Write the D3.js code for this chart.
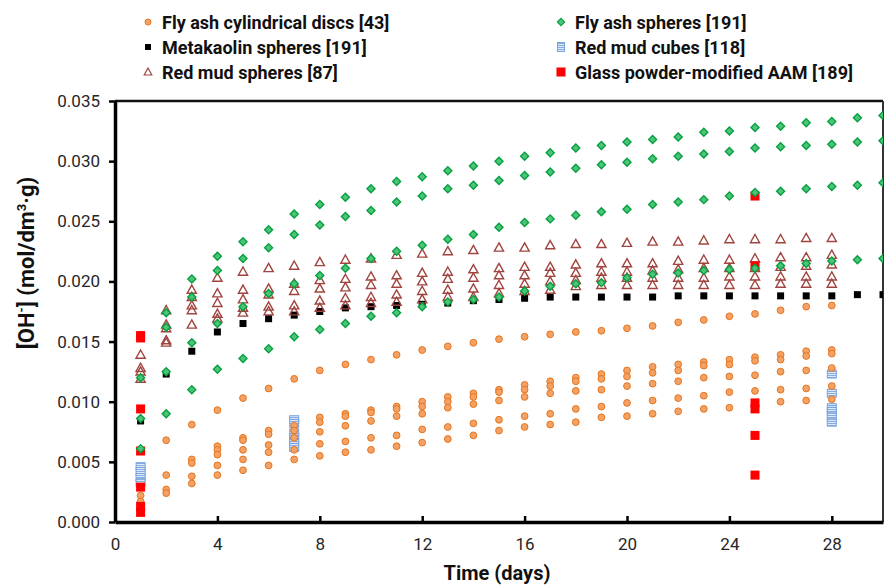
<!DOCTYPE html>
<html>
<head>
<meta charset="utf-8">
<script src="https://cdn.jsdelivr.net/npm/d3@7/dist/d3.min.js"></script>
<style>
body { margin: 0; background: #fff; }
text { font-family: Roboto, "Open Sans", sans-serif; }
</style>
</head>
<body>
<div id="chart-area"></div>
<script>
// ---- data ----
var days28 = [1,2,3,4,5,6,7,8,9,10,11,12,13,14,15,16,17,18,19,20,21,22,23,24,25,26,27,28];
var days30 = [1,2,3,4,5,6,7,8,9,10,11,12,13,14,15,16,17,18,19,20,21,22,23,24,25,26,27,28,29,30];

// Fly ash cylindrical discs [43]
var discA  = [null,0.0068,0.0081,0.0093,0.0103,0.0111,0.0119,0.0126,0.0131,0.0135,0.0139,0.0143,0.0146,0.0149,0.0152,0.0154,0.0156,0.0158,0.0159,0.0161,0.0163,0.0166,0.0168,0.0171,0.0173,0.0176,0.0179,0.0180];
var discB1 = [null,0.0039,0.0052,0.0063,0.0070,0.0076,0.0080,0.0087,0.0090,0.0093,0.0096,0.0100,0.0104,0.0107,0.0110,0.0114,0.0117,0.0120,0.0123,0.0126,0.0129,0.0131,0.0133,0.0135,0.0137,0.0139,0.0142,0.0143];
var discB2 = [null,null,0.0049,0.0060,0.0068,0.0073,0.0076,0.0083,0.0088,0.0091,0.0094,0.0096,0.0100,0.0104,0.0108,0.0110,0.0113,0.0117,0.0119,0.0121,0.0124,0.0126,0.0130,0.0131,0.0134,0.0135,0.0138,0.0140];
var discB3 = [null,null,null,0.0056,0.0060,0.0064,0.0070,0.0075,0.0080,0.0084,0.0088,0.0090,0.0095,0.0098,0.0101,0.0104,0.0107,0.0109,0.0110,0.0113,0.0115,0.0117,0.0120,0.0121,0.0122,0.0125,0.0126,0.0128];
var discC1 = [0.0022,0.0027,0.0038,0.0047,0.0052,0.0058,0.0060,0.0065,0.0067,0.0070,0.0072,0.0077,0.0079,0.0082,0.0085,0.0088,0.0090,0.0094,0.0096,0.0099,0.0101,0.0103,0.0105,0.0108,0.0109,0.0110,0.0111,0.0113];
var discC2 = [0.0017,0.0024,0.0032,0.0039,0.0043,0.0047,0.0052,0.0055,0.0058,0.0060,0.0063,0.0066,0.0069,0.0072,0.0076,0.0079,0.0081,0.0083,0.0087,0.0088,0.0090,0.0092,0.0094,0.0095,0.0097,0.0100,0.0101,0.0102];

// Fly ash spheres [191]
var faTop    = [0.0120,0.0174,0.0202,0.0221,0.0233,0.0243,0.0256,0.0264,0.0270,0.0277,0.0283,0.0287,0.0292,0.0296,0.0300,0.0304,0.0307,0.0311,0.0313,0.0316,0.0318,0.0320,0.0324,0.0325,0.0328,0.0329,0.0332,0.0333,0.0336,0.0338];
var faSecond = [null,0.0162,0.0187,0.0209,0.0219,0.0228,0.0239,0.0247,0.0254,0.0259,0.0266,0.0271,0.0277,0.0280,0.0284,0.0288,0.0291,0.0294,0.0297,0.0299,0.0302,0.0304,0.0306,0.0308,0.0311,0.0312,0.0313,0.0314,0.0316,0.0317];
var faThird  = [0.0086,0.0125,0.0149,0.0165,0.0179,0.0190,0.0198,0.0205,0.0211,0.0219,0.0225,0.0230,0.0235,0.0239,0.0245,0.0249,0.0252,0.0255,0.0258,0.0260,0.0264,0.0266,0.0268,0.0271,0.0274,0.0275,0.0277,0.0279,0.0280,0.0282];
var faLow    = [0.0061,0.0090,0.0110,0.0127,0.0136,0.0144,0.0154,0.0160,0.0165,0.0171,0.0174,0.0179,0.0183,0.0185,0.0187,0.0192,0.0196,0.0198,0.0199,0.0203,0.0206,0.0207,0.0209,0.0210,0.0211,0.0213,0.0215,0.0217,0.0218,0.0219];

// Metakaolin spheres [191]
var metakaolin = [0.0084,0.0123,0.0142,0.0158,0.0165,0.0169,0.0172,0.0175,0.0178,0.0179,0.0180,0.0181,0.0182,0.0184,0.0185,0.0186,0.0187,0.0187,0.0187,0.0187,0.0187,0.0188,0.0188,0.0188,0.0188,0.0188,0.0188,0.0188,0.0189,0.0189];

// Red mud spheres [87]
var rmsT1 = [0.0139,0.0176,0.0193,0.0203,0.0208,0.0211,0.0213,0.0216,0.0218,0.0219,0.0222,0.0223,0.0225,0.0226,0.0228,0.0228,0.0230,0.0231,0.0231,0.0232,0.0233,0.0233,0.0234,0.0235,0.0235,0.0235,0.0236,0.0236];
var rmsT2 = [0.0128,0.0164,0.0187,0.0190,0.0193,0.0194,0.0198,0.0201,0.0202,0.0204,0.0205,0.0207,0.0208,0.0210,0.0211,0.0212,0.0212,0.0214,0.0215,0.0215,0.0215,0.0217,0.0218,0.0218,0.0219,0.0220,0.0220,0.0222];
var rmsT3 = [0.0125,0.0161,0.0180,0.0182,0.0185,0.0189,0.0192,0.0194,0.0195,0.0197,0.0198,0.0200,0.0202,0.0203,0.0205,0.0205,0.0207,0.0207,0.0208,0.0208,0.0209,0.0210,0.0211,0.0211,0.0211,0.0212,0.0213,0.0214];
var rmsT4 = [0.0119,0.0151,0.0176,0.0173,0.0178,0.0179,0.0180,0.0184,0.0186,0.0187,0.0189,0.0192,0.0193,0.0194,0.0197,0.0198,0.0200,0.0201,0.0203,0.0203,0.0203,0.0203,0.0203,0.0204,0.0204,0.0204,0.0204,0.0204];
var rmsT5 = [null,0.0149,0.0164,0.0169,0.0174,0.0175,0.0175,0.0178,0.0180,0.0182,0.0183,0.0185,0.0187,0.0187,0.0190,0.0192,0.0193,0.0196,0.0197,0.0197,0.0197,0.0197,0.0197,0.0197,0.0197,0.0198,0.0198,0.0198];

// Red mud cubes [118]
var cubeDays = [1,1,1,1, 7,7,7,7,7,7, 28,28,28,28,28,28];
var cubeVals = [0.0046,0.0042,0.0037,0.0033, 0.0085,0.0082,0.0074,0.0070,0.0066,0.0062, 0.0123,0.0107,0.0095,0.0092,0.0088,0.0083];

// Glass powder-modified AAM [189]
var glassDays = [1,1,1,1,1,1,1, 25,25,25,25,25,25];
var glassVals = [0.0155,0.0153,0.0094,0.0059,0.0029,0.0013,0.0008, 0.0271,0.0213,0.0099,0.0094,0.0072,0.0039];

var xTicks = [0,4,8,12,16,20,24,28];
var yTicks = [0,0.005,0.010,0.015,0.020,0.025,0.030,0.035];

// ---- layout ----
var margin = {left: 115, right: 2, top: 101, bottom: 65};
var width = 885 - margin.left - margin.right;
var height = 587 - margin.top - margin.bottom;

var svg = d3.select("#chart-area").append("svg")
    .attr("width", 885)
    .attr("height", 587);

var defs = svg.append("defs");
var pat = defs.append("pattern").attr("id", "hstripe")
    .attr("width", 4).attr("height", 2).attr("patternUnits", "userSpaceOnUse");
pat.append("rect").attr("width", 4).attr("height", 2).attr("fill", "#dfe9f8");
pat.append("rect").attr("width", 4).attr("height", 1).attr("fill", "#86ace2");
defs.append("clipPath").attr("id", "plotclip")
    .append("rect").attr("x", -20).attr("y", -20).attr("width", width + 20).attr("height", height + 40);

var g = svg.append("g")
    .attr("transform", "translate(" + margin.left + "," + margin.top + ")");

var x = d3.scaleLinear().domain([0, 30]).range([0, width]);
var y = d3.scaleLinear().domain([0, 0.035]).range([height, 0]);

function pts(days, vals) {
    return days.map((d, i) => ({day: d, v: vals[i]})).filter(p => p.v != null);
}

// frame (top / right)
g.append("line").attr("x1", 0).attr("x2", width).attr("y1", 0).attr("y2", 0)
    .attr("stroke", "#111").attr("stroke-width", 2.5);
g.append("line").attr("x1", width).attr("x2", width).attr("y1", 0).attr("y2", height)
    .attr("stroke", "#333").attr("stroke-width", 2);

var marks = g.append("g").attr("clip-path", "url(#plotclip)");

// marker drawers
function drawCubes(sel, data) {
    sel.selectAll(null).data(data).enter().append("rect")
        .attr("x", d => x(d.day) - 4.5).attr("y", d => y(d.v) - 4)
        .attr("width", 9).attr("height", 8)
        .attr("fill", "url(#hstripe)").attr("stroke", "#79a3dc").attr("stroke-width", 1);
}
function drawDiscs(sel, data) {
    sel.selectAll(null).data(data).enter().append("circle")
        .attr("cx", d => x(d.day)).attr("cy", d => y(d.v)).attr("r", 3.4)
        .attr("fill", "#f3a165").attr("stroke", "#e5761f").attr("stroke-width", 1);
}
function drawMeta(sel, data) {
    sel.selectAll(null).data(data).enter().append("rect")
        .attr("x", d => x(d.day) - 3.5).attr("y", d => y(d.v) - 3.5)
        .attr("width", 7).attr("height", 7).attr("fill", "#000");
}
var triPath = "M0,-4.8L4.6,3.4L-4.6,3.4Z";
function drawTri(sel, data) {
    sel.selectAll(null).data(data).enter().append("path")
        .attr("d", triPath)
        .attr("transform", d => "translate(" + x(d.day) + "," + y(d.v) + ")")
        .attr("fill", "none").attr("stroke", "#a0443f").attr("stroke-width", 1.4);
}
function drawGlass(sel, data) {
    sel.selectAll(null).data(data).enter().append("rect")
        .attr("x", d => x(d.day) - 4.5).attr("y", d => y(d.v) - 4.5)
        .attr("width", 9).attr("height", 9).attr("fill", "#ff0000");
}
var diaPath = "M0,-4L4,0L0,4L-4,0Z";
function drawDia(sel, data) {
    sel.selectAll(null).data(data).enter().append("path")
        .attr("d", diaPath)
        .attr("transform", d => "translate(" + x(d.day) + "," + y(d.v) + ")")
        .attr("fill", "#4cc47a").attr("stroke", "#07a040").attr("stroke-width", 1.4);
}

drawCubes(marks, pts(cubeDays, cubeVals));
[discA, discB1, discB2, discB3, discC1, discC2].forEach(s => drawDiscs(marks, pts(days28, s)));
drawMeta(marks, pts(days30, metakaolin));
[rmsT1, rmsT2, rmsT3, rmsT4, rmsT5].forEach(s => drawTri(marks, pts(days28, s)));
drawGlass(marks, pts(glassDays, glassVals));
[faTop, faSecond, faThird, faLow].forEach(s => drawDia(marks, pts(days30, s)));

// axes
var yAxis = g.append("g")
    .call(d3.axisLeft(y).tickValues(yTicks).tickFormat(d3.format(".3f"))
        .tickSize(6).tickSizeOuter(0).tickPadding(9));
var xAxis = g.append("g").attr("transform", "translate(0," + height + ")")
    .call(d3.axisBottom(x).tickValues(xTicks).tickSize(-6).tickSizeOuter(0).tickPadding(16));

[yAxis, xAxis].forEach(a => {
    a.select(".domain").attr("stroke", "#000").attr("stroke-width", 3.5);
    a.selectAll(".tick line").attr("stroke", "#000").attr("stroke-width", 2.5);
    a.selectAll(".tick text").attr("fill", "#262626").style("font-size", "17px");
});

// axis titles
svg.append("text")
    .attr("x", 497).attr("y", 580)
    .attr("text-anchor", "middle")
    .style("font-size", "20px").style("font-weight", "bold").attr("fill", "#111")
    .text("Time (days)");

var yt = svg.append("text")
    .attr("transform", "translate(34,263) rotate(-90)")
    .attr("text-anchor", "middle")
    .style("font-size", "22px").style("font-weight", "bold").attr("fill", "#111");
yt.append("tspan").text("[OH");
yt.append("tspan").attr("dy", -8).style("font-size", "13px").text("-");
yt.append("tspan").attr("dy", 8).text("] (mol/dm");
yt.append("tspan").attr("dy", -8).style("font-size", "13px").text("3");
yt.append("tspan").attr("dy", 8).text("·g)");

// legend
var legend = [
    {col: 0, row: 0, type: "disc",  label: "Fly ash cylindrical discs [43]"},
    {col: 0, row: 1, type: "meta",  label: "Metakaolin spheres [191]"},
    {col: 0, row: 2, type: "tri",   label: "Red mud spheres [87]"},
    {col: 1, row: 0, type: "dia",   label: "Fly ash spheres [191]"},
    {col: 1, row: 1, type: "cube",  label: "Red mud cubes [118]"},
    {col: 1, row: 2, type: "glass", label: "Glass powder-modified AAM [189]"}
];
var colX = [148, 561];
var leg = svg.append("g");
legend.forEach(d => {
    var cx = colX[d.col], cy = 22 + d.row * 25;
    var m = leg.append("g").attr("transform", "translate(" + cx + "," + cy + ")");
    if (d.type == "disc") m.append("circle").attr("r", 3).attr("fill", "#f3a165").attr("stroke", "#e5761f");
    if (d.type == "meta") m.append("rect").attr("x", -3).attr("y", -3).attr("width", 6).attr("height", 6).attr("fill", "#000");
    if (d.type == "tri") m.append("path").attr("d", "M0,-4L3.8,3L-3.8,3Z").attr("fill", "none").attr("stroke", "#a0443f").attr("stroke-width", 1.2);
    if (d.type == "dia") m.append("path").attr("d", "M0,-3.6L3.6,0L0,3.6L-3.6,0Z").attr("fill", "#4cc47a").attr("stroke", "#07a040").attr("stroke-width", 1.2);
    if (d.type == "cube") m.append("rect").attr("x", -3.5).attr("y", -4.5).attr("width", 7).attr("height", 9).attr("fill", "url(#hstripe)").attr("stroke", "#79a3dc");
    if (d.type == "glass") m.append("rect").attr("x", -4.5).attr("y", -4.5).attr("width", 9).attr("height", 9).attr("fill", "#ff0000");
    leg.append("text").attr("x", cx + 14).attr("y", cy + 6.5)
        .style("font-size", "18px").style("font-weight", "bold").attr("fill", "#111")
        .text(d.label);
});
</script>
</body>
</html>
